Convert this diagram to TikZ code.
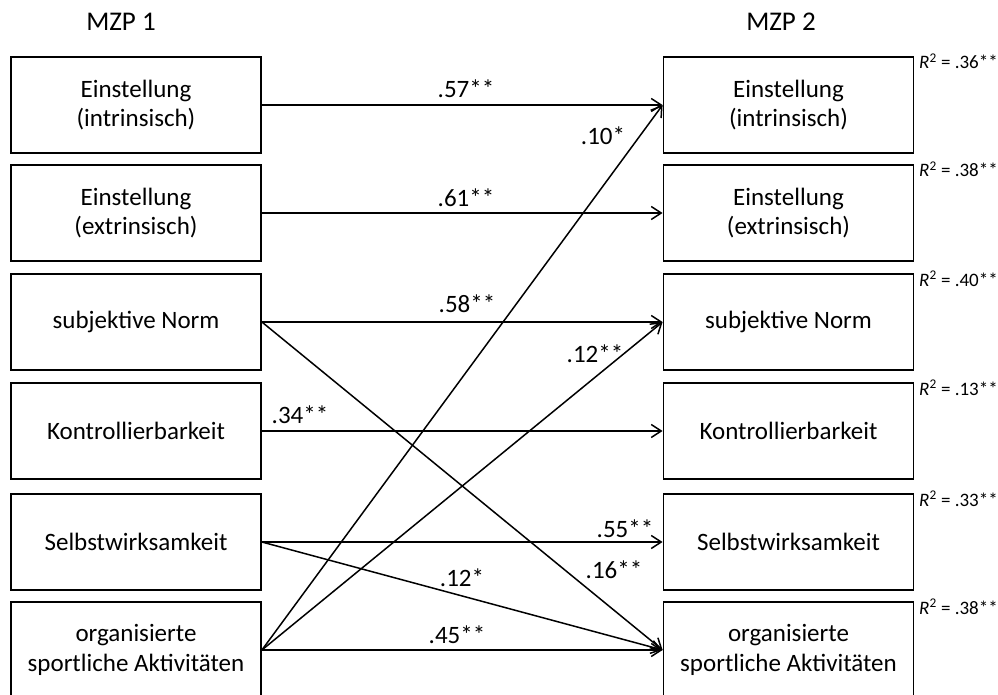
\documentclass[tikz,border=0pt]{standalone}
\usepackage{fontspec}
\setmainfont{Carlito}
\usetikzlibrary{arrows.meta}
\begin{document}
\begin{tikzpicture}[x=1pt,y=-1pt,
  box/.style={draw, line width=1.8pt, minimum width=250pt, minimum height=96pt,
    inner sep=0pt, align=center, font=\fontsize{25}{29.5}\selectfont},
  pathline/.style={line width=1.5pt,
    -{Straight Barb[length=10pt,width=13pt,line width=1.5pt]}},
  coef/.style={font=\fontsize{25}{29}\selectfont, inner sep=0pt, anchor=base},
  rsq/.style={font=\fontsize{19}{21}\selectfont, inner sep=0pt, anchor=base west},
  head/.style={font=\fontsize{27}{31}\selectfont, inner sep=0pt, anchor=base}]
\useasboundingbox (0,0) rectangle (998,695);

% time point headings
\node[head] (h1) at (121,31) {MZP 1};
\node[head] (h2) at (781,31) {MZP 2};

% measurement time 1
\node[box] (a1) at (136,105) {Einstellung\\(intrinsisch)};
\node[box] (a2) at (136,213) {Einstellung\\(extrinsisch)};
\node[box] (a3) at (136,322) {subjektive Norm};
\node[box] (a4) at (136,431) {Kontrollierbarkeit};
\node[box] (a5) at (136,542) {Selbstwirksamkeit};
\node[box] (a6) at (136,650) {organisierte\\sportliche Aktivitäten};

% measurement time 2
\node[box] (b1) at (788.5,105) {Einstellung\\(intrinsisch)};
\node[box] (b2) at (788.5,213) {Einstellung\\(extrinsisch)};
\node[box] (b3) at (788.5,322) {subjektive Norm};
\node[box] (b4) at (788.5,431) {Kontrollierbarkeit};
\node[box] (b5) at (788.5,542) {Selbstwirksamkeit};
\node[box] (b6) at (788.5,650) {organisierte\\sportliche Aktivitäten};

% explained variance
\node[rsq] (r1) at (919,69)  {\textit{R}\textsuperscript{2} = .36**};
\node[rsq] (r2) at (919,177) {\textit{R}\textsuperscript{2} = .38**};
\node[rsq] (r3) at (919,286) {\textit{R}\textsuperscript{2} = .40**};
\node[rsq] (r4) at (919,395) {\textit{R}\textsuperscript{2} = .13**};
\node[rsq] (r5) at (919,506) {\textit{R}\textsuperscript{2} = .33**};
\node[rsq] (r6) at (919,614) {\textit{R}\textsuperscript{2} = .38**};

% stability paths
\draw[pathline] (a1.east) -- (b1.west);
\draw[pathline] (a2.east) -- (b2.west);
\draw[pathline] (a3.east) -- (b3.west);
\draw[pathline] (a4.east) -- (b4.west);
\draw[pathline] (a5.east) -- (b5.west);
\draw[pathline] (a6.east) -- (b6.west);

% cross-lagged paths
\draw[pathline] (a6.east) -- (b1.west);
\draw[pathline] (a6.east) -- (b3.west);
\draw[pathline] (a3.east) -- (b6.west);
\draw[pathline] (a5.east) -- (b6.west);

% path coefficients
\node[coef] (c1)  at (466,98)  {.57**};
\node[coef] (c2)  at (466,207) {.61**};
\node[coef] (c3)  at (467,312) {.58**};
\node[coef] (c4)  at (300,423) {.34**};
\node[coef] (c5)  at (625,537) {.55**};
\node[coef] (c6)  at (457,643) {.45**};
\node[coef] (c7)  at (603,145) {.10*};
\node[coef] (c8)  at (595,362) {.12**};
\node[coef] (c9)  at (614,578) {.16**};
\node[coef] (c10) at (462,586) {.12*};
\end{tikzpicture}
\end{document}
